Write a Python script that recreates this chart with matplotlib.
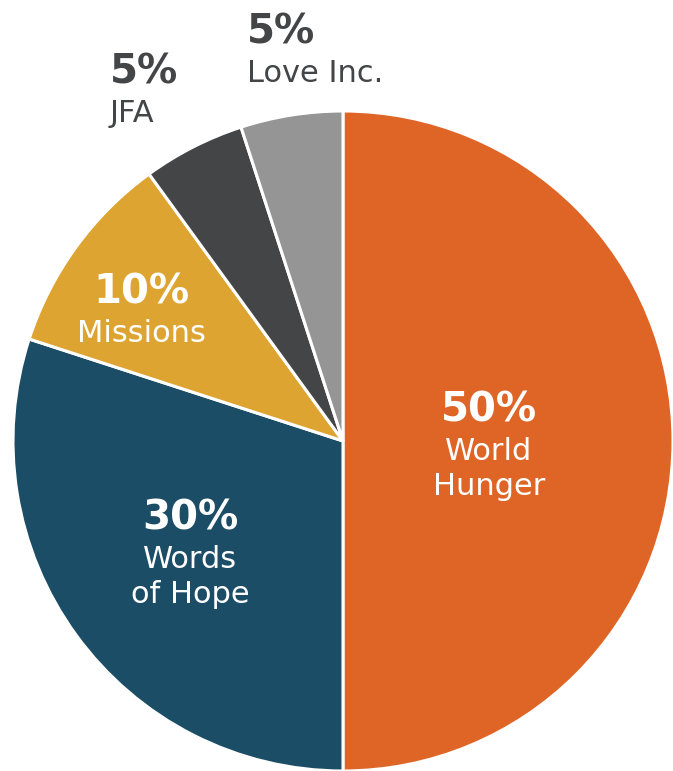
import matplotlib.pyplot as plt

# Datos del gráfico
labels = ['World\nHunger', 'Words\nof Hope', 'Missions', 'JFA', 'Love Inc.']
shares = [50, 30, 10, 5, 5]
colors = ['#DF6526', '#1C4D66', '#DEA431', '#444547', '#959595']
text_colors = ['white', 'white', 'white', '#444547', '#444547']

# Posición de las etiquetas (píxeles, línea base del porcentaje) y alineación
label_pos = [(489, 421), (190, 529), (141, 303), (110, 83), (247, 43)]
label_ha = ['center', 'center', 'center', 'left', 'left']

W, H = 673, 771
fig = plt.figure(figsize=(W / 100, H / 100), dpi=100)
ax = fig.add_axes([0, 0, 1, 1])

cx, cy, r = 343, H - 441, 330
ax.pie(shares, colors=colors, startangle=90, counterclock=False,
       center=(cx, cy), radius=r, frame=True,
       wedgeprops=dict(edgecolor='white', linewidth=2.2))
ax.set_xlim(0, W)
ax.set_ylim(0, H)
ax.set_aspect('equal')
ax.axis('off')

for lab, val, col, (x, y), ha in zip(labels, shares, text_colors, label_pos, label_ha):
    ax.text(x, H - y, f'{val}%', ha=ha, va='baseline', color=col,
            fontsize=29, fontweight='bold', family='DejaVu Sans')
    for i, line in enumerate(lab.split('\n')):
        ax.text(x, H - y - 39 - 35 * i, line, ha=ha, va='baseline', color=col,
                fontsize=22, family='DejaVu Sans')

fig.savefig('out.png', dpi=100)
